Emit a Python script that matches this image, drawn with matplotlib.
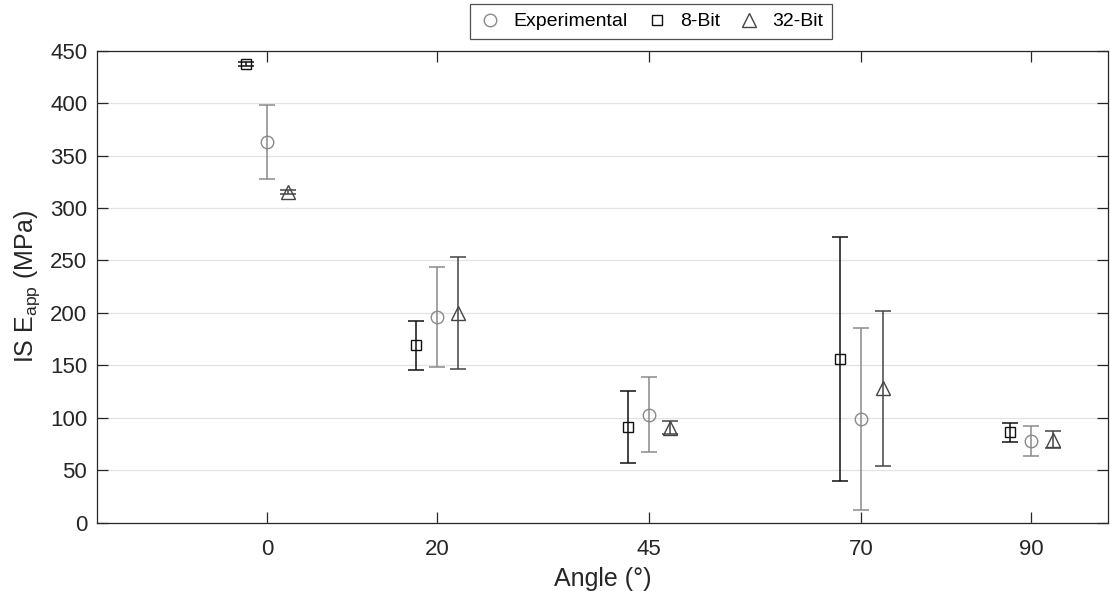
import numpy as np
import matplotlib.pyplot as plt
from matplotlib.lines import Line2D

plt.rcParams['font.family'] = ['Liberation Sans', 'DejaVu Sans']
plt.rcParams['mathtext.fontset'] = 'custom'
plt.rcParams['mathtext.rm'] = 'Liberation Sans'

angles = [0, 20, 45, 70, 90]
angle_labels = ['0', '20', '45', '70', '90']

exp_mean = [363, 196, 103, 99, 78]
exp_err = [35, 48, 35.5, 87, 14]

bit8_mean = [437, 169, 91, 156, 86]
bit8_err = [2, 23, 34.5, 116, 9]

bit32_mean = [315, 200, 90.5, 128, 79]
bit32_err = [2, 53, 6, 74, 8]

offset = 2.5
x = np.array(angles, dtype=float)

fig = plt.figure(figsize=(11.1, 5.91), dpi=100)
ax = fig.add_axes([0.0874, 0.1156, 0.9106, 0.7986])

c_exp = '#8a8a8a'
c_8 = '#111111'
c_32 = '#444444'

ax.errorbar(x, exp_mean, yerr=exp_err, fmt='o', color=c_exp, mfc='none',
            mec=c_exp, ms=9, capsize=5.5, elinewidth=1.1, capthick=1.1, zorder=3)
ax.errorbar(x - offset, bit8_mean, yerr=bit8_err, fmt='s', color=c_8, mfc='none',
            mec=c_8, ms=7.5, capsize=5.5, elinewidth=1.1, capthick=1.1, zorder=3)
ax.errorbar(x + offset, bit32_mean, yerr=bit32_err, fmt='^', color=c_32, mfc='none',
            mec=c_32, ms=10.5, capsize=5.5, elinewidth=1.1, capthick=1.1, zorder=3)

ax.set_xlim(-20, 99)
ax.set_ylim(0, 450)
ax.set_xticks(angles)
ax.set_xticklabels(angle_labels)
ax.set_yticks(np.arange(0, 451, 50))
ax.yaxis.grid(True, color='#e3e3e3', linewidth=0.9)
ax.set_axisbelow(True)

ax.tick_params(direction='in', top=True, right=True, length=8, width=0.9,
               labelsize=16, colors='#262626', labelcolor='#262626')
ax.tick_params(axis='x', pad=12)
ax.tick_params(axis='y', pad=7)
for s in ax.spines.values():
    s.set_color('#262626')
    s.set_linewidth(0.9)

ax.set_xlabel('Angle (°)', fontsize=18, color='#262626', labelpad=5)
ax.set_ylabel(r'IS E$_{\mathrm{app}}$ (MPa)', fontsize=18, color='#262626', labelpad=6)

handles = [
    Line2D([], [], ls='none', marker='o', mfc='none', mec=c_exp, ms=9),
    Line2D([], [], ls='none', marker='s', mfc='none', mec=c_8, ms=7),
    Line2D([], [], ls='none', marker='^', mfc='none', mec=c_32, ms=10),
]
leg = fig.legend(handles, ['Experimental', '8-Bit', '32-Bit'], loc='upper center',
                 bbox_to_anchor=(651 / 1110, 1 - 4 / 591), ncol=3, fontsize=14,
                 frameon=True, fancybox=False, edgecolor='#262626',
                 handlelength=1.2, handletextpad=0.6, columnspacing=0.9,
                 borderpad=0.45, borderaxespad=0)
leg.get_frame().set_linewidth(0.9)

fig.savefig('out.png', dpi=100)
